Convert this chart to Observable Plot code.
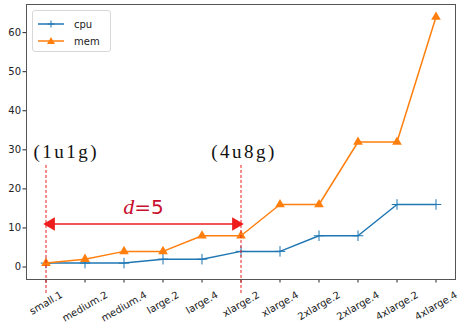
<!DOCTYPE html>
<html><head><meta charset="utf-8">
<script src="https://cdn.jsdelivr.net/npm/d3@7"></script>
<script src="https://cdn.jsdelivr.net/npm/@observablehq/plot@0.6"></script>
<style>
body{margin:0;background:#fff;}
#wrap{position:relative;width:461px;height:325px;}
#legend{position:absolute;left:32px;top:10px;width:77px;height:40px;border:1px solid #d8d8d8;border-radius:3px;background:rgba(255,255,255,0.85);font-family:"DejaVu Sans",sans-serif;font-size:10px;color:#222;}
#legend .row{position:absolute;left:4px;height:12px;display:flex;align-items:center;}
#legend .row span{margin-left:9px;}
</style>
</head><body><div id="wrap"></div>
<script>
const categories = ["small.1","medium.2","medium.4","large.2","large.4","xlarge.2","xlarge.4","2xlarge.2","2xlarge.4","4xlarge.2","4xlarge.4"];
const cpu = [1,1,1,2,2,4,4,8,8,16,16];
const mem = [1,2,4,4,8,8,16,16,32,32,64];
const yTicks = [0,10,20,30,40,50,60];
const configs = [{x:0, labelX:0.52, label:"(1u1g)"},{x:5, labelX:5.08, label:"(4u8g)"}];
const configLabelY = 29.5;
const dashTop = 26, dashBottom = -7;
const distance = {from:0, to:5, y:11, label:"d=5", labelY:15.5};

const BLUE = "#1f77b4", ORANGE = "#ff7f0e", RED = "#ee1c1c";
const rows = categories.map((c,i)=>({i, c, cpu:cpu[i], mem:mem[i]}));

const chart = Plot.plot({
  width:461, height:325,
  marginLeft:26, marginRight:6, marginTop:4, marginBottom:46,
  style:{fontFamily:"DejaVu Sans, sans-serif", fontSize:"10px", color:"#222", background:"#fff", overflow:"visible"},
  x:{domain:[-0.5,10.5]},
  y:{domain:[-3.2,67.2]},
  marks:[
    Plot.axisY({ticks:yTicks, tickSize:3.5, tickPadding:2, fontSize:10, label:null}),
    Plot.axisX({ticks:d3.range(categories.length), tickFormat:i=>categories[i], tickRotate:-30, textAnchor:"middle", lineAnchor:"middle", tickSize:3.5, tickPadding:14, fontSize:10, label:null}),
    Plot.line(rows,{x:"i", y:"cpu", stroke:BLUE, strokeWidth:1.5}),
    Plot.dot(rows,{x:"i", y:"cpu", symbol:"plus", stroke:BLUE, strokeWidth:1, r:3.5}),
    Plot.line(rows,{x:"i", y:"mem", stroke:ORANGE, strokeWidth:1.5}),
    Plot.dot(rows,{x:"i", y:"mem", symbol:"triangle", fill:ORANGE, r:3.6}),
    Plot.frame({stroke:"#555", strokeWidth:1}),
    Plot.ruleX(configs,{x:"x", y1:dashTop, y2:dashBottom, stroke:RED, strokeWidth:1, strokeDasharray:"3,2", clip:false}),
    Plot.text(configs,{x:"labelX", y:configLabelY, text:"label", fontFamily:"Liberation Serif, serif", fontSize:19, fill:"#111", textAnchor:"middle", style:"letter-spacing:2.5px"}),
    Plot.ruleY([distance],{x1:"from", x2:"to", y:"y", stroke:RED, strokeWidth:1.6}),
    Plot.dot([distance],{x:"from", y:"y", symbol:"triangle", rotate:-90, fill:RED, r:5, dx:5}),
    Plot.dot([distance],{x:"to", y:"y", symbol:"triangle", rotate:90, fill:RED, r:5, dx:-5}),
    Plot.text([distance],{x:d=>(d.from+d.to)/2, y:"labelY", text:"label", fontSize:22, fill:"#c8102e", fontFamily:"Liberation Serif, serif", textAnchor:"middle"})
  ]
});

d3.select(chart).selectAll("text").each(function(){
  if (this.textContent === distance.label) {
    const t = d3.select(this);
    t.text(null);
    t.append("tspan").attr("font-style","italic").text("d");
    t.append("tspan").attr("font-family","DejaVu Sans, sans-serif").attr("font-size",20).text("=5");
  }
  if (configs.some(c => c.label === this.textContent)) {
    this.setAttribute("letter-spacing", "2.5");
  }
});

const wrap = document.getElementById("wrap");
wrap.appendChild(chart);

// matplotlib-like placement: rotated label boxes hang from a common top line
const svgTop = chart.getBoundingClientRect().top;
const labelTop = 289;
d3.select(chart).selectAll('g[aria-label="x-axis tick label"] text').each(function(){
  const r = this.getBoundingClientRect();
  const ddy = labelTop - (r.top - svgTop);
  const old = this.getAttribute("transform") || "";
  this.setAttribute("transform", `translate(0,${ddy}) ` + old);
});

const legend = document.createElement("div");
legend.id = "legend";
legend.innerHTML = `
<div class="row" style="top:7px"><svg width="28" height="12"><line x1="1" x2="27" y1="6" y2="6" stroke="${BLUE}" stroke-width="1.5"/><path d="M14,2.5V9.5M10.5,6H17.5" stroke="${BLUE}" stroke-width="1"/></svg><span>cpu</span></div>
<div class="row" style="top:24px"><svg width="28" height="12"><line x1="1" x2="27" y1="6" y2="6" stroke="${ORANGE}" stroke-width="1.5"/><path d="M14,2L18,9H10Z" fill="${ORANGE}"/></svg><span>mem</span></div>`;
wrap.appendChild(legend);
</script>
</body></html>
